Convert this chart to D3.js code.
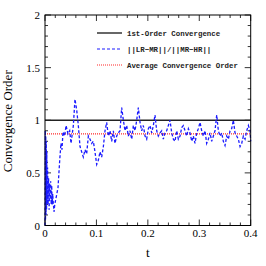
<!DOCTYPE html>
<html><head><meta charset="utf-8">
<script src="https://cdn.jsdelivr.net/npm/d3@7"></script>
<style>body{margin:0;background:#fff}svg{display:block}</style>
</head><body>
<script>
const tValues = [0,0.0005,0.001,0.0015,0.002,0.0025,0.003,0.0035,0.004,0.005,0.006,0.007,0.008,0.009,0.010,0.011,0.012,0.013,0.014,0.015,0.016,0.0175,0.019,0.021,0.023,0.0253,0.0286,0.031,0.033,0.035,0.038,0.041,0.0447,0.048,0.0506,
0.0551,0.0583,0.0616,0.0648,0.0681,0.0713,0.0745,0.0778,0.081,0.0843,0.0875,0.0908,0.094,0.0972,0.1005,0.1037,0.107,0.1102,0.1135,0.1167,0.1199,0.1232,0.1264,0.1297,0.1329,0.1361,0.1394,0.1426,0.1459,0.1491,0.1524,0.1556,0.1588,0.1621,0.1653,0.1686,0.1718,0.175,0.1783,0.1815,0.1848,0.188,0.1912,0.1945,0.1977,0.201,0.2042,0.2075,0.2107,0.2139,0.2172,0.2204,0.2237,0.2269,0.2301,0.2334,0.2366,0.2399,0.2431,0.2464,0.2496,0.2528,0.2561,0.2593,0.2626,0.2658,0.269,0.2723,0.2755,0.2788,0.282,0.2853,0.2885,0.2917,0.295,0.2982,0.3015,0.3047,0.3079,0.3112,0.3144,0.3177,0.3209,0.3241,0.3274,0.3306,0.3339,0.3371,0.3404,0.3436,0.3468,0.3501,0.3533,0.3566,0.3598,0.363,0.3663,0.3695,0.3728,0.376,0.3793,0.3825,0.3857,0.389,0.3922,0.3955,0.3987,0.4];
const ratioValues = [0,0.9,0.05,0.85,0.1,0.8,0.15,0.7,0.2,0.55,0.2,0.45,0.15,0.4,0.25,0.42,0.2,0.38,0.2,0.3,0.22,0.13,0.2,0.25,0.3,0.36,0.62,0.78,0.72,0.89,0.85,0.95,0.87,0.9,0.78,
0.95,1.2,1.1,0.95,0.75,0.7,0.65,0.72,0.68,0.85,0.82,0.78,0.8,0.7,0.58,0.62,0.7,0.65,0.75,0.9,0.98,0.85,0.9,0.8,0.9,0.78,0.85,0.88,0.9,1.12,1.0,0.9,0.95,0.85,0.9,0.82,0.95,0.9,1.0,1.12,0.98,0.9,0.95,0.85,0.82,0.92,0.95,0.88,0.95,1.05,0.9,0.85,0.88,0.9,0.82,0.88,0.9,0.95,1.0,0.88,0.82,0.8,0.9,0.82,0.85,0.93,0.95,0.9,0.85,0.92,0.88,0.8,0.85,0.78,0.88,0.92,0.98,0.9,0.85,0.9,0.78,0.82,0.88,0.8,0.85,0.9,1.05,0.9,0.85,0.88,0.8,0.76,0.85,0.82,0.9,0.92,1.0,0.88,0.85,0.82,0.75,0.78,0.85,0.82,0.9,0.95,0.9,0.8];
const firstOrder = 1.0;
const averageOrder = 0.87;
const xTicks = [0,0.1,0.2,0.3,0.4];
const yTicks = [0,0.5,1,1.5,2];
const legendLabels = ["1st-Order Convergence","||LR\u2212MR||/||MR\u2212HR||","Average Convergence Order"];

const W=266,H=266;
const L=45,R=250.7,T=15,B=225.5;
const svg=d3.select("body").append("svg").attr("width",W).attr("height",H);
const x=d3.scaleLinear().domain([0,0.4]).range([L,R]);
const y=d3.scaleLinear().domain([0,2]).range([B,T]);

const g=svg.append("g");
const xMinor=d3.range(0,0.4001,0.02), yMinor=d3.range(0,2.0001,0.1);
const tk=g.append("g").attr("stroke","#000").attr("stroke-width",0.8);
xMinor.forEach(v=>{
  const major=xTicks.some(m=>Math.abs(m-v)<1e-6); const len=major?6:3;
  tk.append("line").attr("x1",x(v)).attr("x2",x(v)).attr("y1",B).attr("y2",B-len);
  tk.append("line").attr("x1",x(v)).attr("x2",x(v)).attr("y1",T).attr("y2",T+len);
});
yMinor.forEach(v=>{
  const major=yTicks.some(m=>Math.abs(m-v)<1e-6); const len=major?6:3;
  tk.append("line").attr("x1",L).attr("x2",L+len).attr("y1",y(v)).attr("y2",y(v));
  tk.append("line").attr("x1",R).attr("x2",R-len).attr("y1",y(v)).attr("y2",y(v));
});

g.append("line").attr("x1",x(0)).attr("x2",x(0.4)).attr("y1",y(firstOrder)).attr("y2",y(firstOrder))
 .attr("stroke","#222").attr("stroke-width",1.3);
g.append("line").attr("x1",x(0)).attr("x2",x(0.4)).attr("y1",y(averageOrder)).attr("y2",y(averageOrder))
 .attr("stroke","#ff2a2a").attr("stroke-width",1.2).attr("stroke-dasharray","1,1");
const pts=tValues.map((t,i)=>[t,ratioValues[i]]);
g.append("path").datum(pts).attr("fill","none").attr("stroke","#1a1aff").attr("stroke-width",1.3)
 .attr("stroke-dasharray","3,2")
 .attr("d",d3.line().x(d=>x(d[0])).y(d=>y(d[1])));

g.append("rect").attr("x",L).attr("y",T).attr("width",R-L).attr("height",B-T)
 .attr("fill","none").attr("stroke","#000").attr("stroke-width",1);

const font="'Liberation Serif','DejaVu Serif',serif";
xTicks.forEach(v=>g.append("text").attr("x",x(v)).attr("y",237).attr("text-anchor","middle")
  .attr("font-family",font).attr("font-size",11).text(v===0?"0":d3.format(".1f")(v)));
yTicks.forEach(v=>g.append("text").attr("x",40).attr("y",y(v)+4).attr("text-anchor","end")
  .attr("font-family",font).attr("font-size",11).text(v));
g.append("text").attr("x",(L+R)/2).attr("y",257).attr("text-anchor","middle")
  .attr("font-family",font).attr("font-size",13).text("t");
g.append("text").attr("transform","translate(12,"+((T+B)/2+1)+") rotate(-90)").attr("text-anchor","middle")
  .attr("font-family",font).attr("font-size",13).text("Convergence Order");

const lg=g.append("g");
const rows=[33,49,65];
const styles=[{c:"#000",d:null,w:1.2},{c:"#1a1aff",d:"3,2",w:1.2},{c:"#ff2a2a",d:"1,1",w:1.2}];
rows.forEach((ry,i)=>{
  const s=styles[i];
  const l=lg.append("line").attr("x1",97).attr("x2",122).attr("y1",ry).attr("y2",ry)
    .attr("stroke",s.c).attr("stroke-width",s.w);
  if(s.d) l.attr("stroke-dasharray",s.d);
  lg.append("text").attr("x",127).attr("y",ry+2.5).attr("font-family","'Liberation Mono','DejaVu Sans Mono',monospace")
    .attr("font-size",7.4).attr("font-weight","bold").attr("fill","#222").text(legendLabels[i]);
});
</script>
</body></html>
